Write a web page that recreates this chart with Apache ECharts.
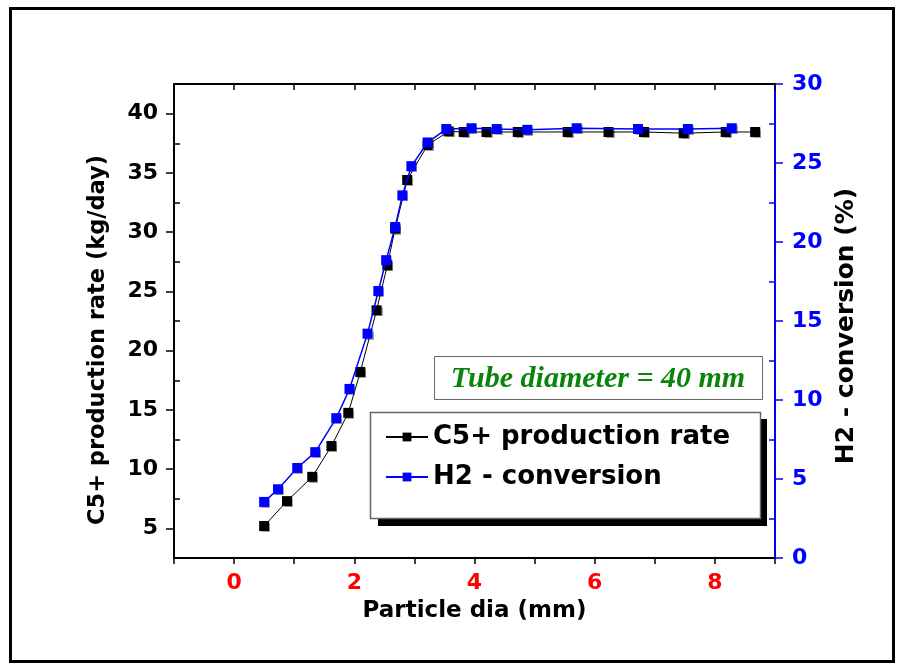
<!DOCTYPE html>
<html>
<head>
<meta charset="utf-8">
<script src="https://cdn.jsdelivr.net/npm/echarts@6/dist/echarts.min.js"></script>
<style>html,body{margin:0;padding:0;background:#fff}#c{width:899px;height:669px}</style>
</head>
<body>
<div id="c"></div>
<script>
// C5+ production rate (kg/day) vs particle diameter (mm)
const c5X = [0.5, 0.88, 1.3, 1.62, 1.9, 2.1, 2.37, 2.55, 2.68, 2.88, 3.22, 3.57, 3.82, 4.2, 4.72, 5.55, 6.23, 6.82, 7.48, 8.18, 8.67];
const c5Y = [5.2, 7.3, 9.35, 11.95, 14.75, 18.2, 23.4, 27.2, 30.3, 34.4, 37.35, 38.5, 38.45, 38.45, 38.45, 38.45, 38.45, 38.45, 38.35, 38.45, 38.45];
// H2 conversion (%) vs particle diameter (mm)
const h2X = [0.5, 0.73, 1.05, 1.35, 1.7, 1.92, 2.22, 2.4, 2.53, 2.68, 2.8, 2.95, 3.22, 3.53, 3.95, 4.37, 4.88, 5.7, 6.72, 7.55, 8.28];
const h2Y = [3.55, 4.35, 5.7, 6.7, 8.85, 10.7, 14.2, 16.9, 18.85, 20.95, 22.95, 24.8, 26.3, 27.15, 27.2, 27.15, 27.1, 27.2, 27.15, 27.15, 27.2];

const xTickLabels = [0, 2, 4, 6, 8];
const leftTickLabels = [5, 10, 15, 20, 25, 30, 35, 40];
const leftMinorTicks = [2.5, 7.5, 12.5, 17.5, 22.5, 27.5, 32.5, 37.5, 42.5];
const rightMinorTicks = [2.5, 7.5, 12.5, 17.5, 22.5, 27.5];

const seriesNames = ['C5+ production rate', 'H2 - conversion'];
const xName = 'Particle dia (mm)';
const leftName = 'C5+ production rate (kg/day)';
const rightName = 'H2 - conversion (%)';
const noteText = 'Tube diameter = 40 mm';

const FONT = '"DejaVu Sans", "Liberation Sans", Arial, sans-serif';
const chart = echarts.init(document.getElementById('c'), null, {renderer: 'canvas'});

const zip = (xs, ys) => xs.map((x, i) => [x, ys[i]]);

chart.setOption({
  animation: false,
  backgroundColor: '#fff',
  grid: {left: 174, right: 124, top: 84, bottom: 111},
  xAxis: [
    {
      type: 'value', position: 'bottom', min: -1, max: 9, interval: 1,
      name: xName, nameLocation: 'middle', nameGap: 42,
      nameTextStyle: {fontFamily: FONT, fontWeight: 'bold', fontSize: 23, color: '#000'},
      axisLine: {show: true, onZero: false, lineStyle: {color: '#000', width: 2}},
      axisTick: {show: true, inside: false, length: 6, lineStyle: {color: '#000', width: 1.5}},
      axisLabel: {customValues: xTickLabels, color: '#ff0000', fontFamily: FONT, fontWeight: 'bold', fontSize: 22, margin: 14},
      splitLine: {show: false}
    },
    {
      type: 'value', position: 'top', min: -1, max: 9, interval: 1,
      axisLine: {show: true, onZero: false, lineStyle: {color: '#000', width: 2}},
      axisTick: {show: true, inside: true, length: 6, lineStyle: {color: '#000', width: 1.5}},
      axisLabel: {show: false},
      splitLine: {show: false}
    }
  ],
  yAxis: [
    {
      type: 'value', position: 'left', min: 2.5, max: 42.5,
      name: leftName, nameLocation: 'middle', nameGap: 64, nameRotate: 90,
      nameTextStyle: {fontFamily: FONT, fontWeight: 'bold', fontSize: 22.5, color: '#000', padding: [0, 38, 0, 0]},
      axisLine: {show: true, onZero: false, lineStyle: {color: '#000', width: 2}},
      axisTick: {show: true, inside: false, length: 8, customValues: leftTickLabels, lineStyle: {color: '#000', width: 1.5}},
      axisLabel: {customValues: leftTickLabels, color: '#000', fontFamily: FONT, fontWeight: 'bold', fontSize: 22, margin: 16},
      splitLine: {show: false}
    },
    {
      type: 'value', position: 'right', min: 0, max: 30, interval: 5,
      name: rightName, nameLocation: 'middle', nameGap: 59, nameRotate: 90,
      nameTextStyle: {fontFamily: FONT, fontWeight: 'bold', fontSize: 25, color: '#000', padding: [0, 10, 0, 0]},
      axisLine: {show: true, onZero: false, lineStyle: {color: '#0000ff', width: 2}},
      axisTick: {show: true, inside: false, length: 8, lineStyle: {color: '#0000ff', width: 1.5}},
      axisLabel: {color: '#0000ff', fontFamily: FONT, fontWeight: 'bold', fontSize: 22, margin: 17},
      splitLine: {show: false}
    },
    {
      type: 'value', position: 'left', min: 2.5, max: 42.5,
      axisLine: {show: false, onZero: false},
      axisTick: {show: true, inside: true, length: 6, customValues: leftMinorTicks, lineStyle: {color: '#000', width: 1.5}},
      axisLabel: {show: false},
      splitLine: {show: false}
    },
    {
      type: 'value', position: 'right', min: 0, max: 30,
      axisLine: {show: false, onZero: false},
      axisTick: {show: true, inside: true, length: 6, customValues: rightMinorTicks, lineStyle: {color: '#0000ff', width: 1.5}},
      axisLabel: {show: false},
      splitLine: {show: false}
    }
  ],
  legend: {
    orient: 'vertical', left: 380, top: 416,
    itemWidth: 42, itemHeight: 11, itemGap: 8,
    data: seriesNames,
    textStyle: {fontFamily: FONT, fontWeight: 'bold', fontSize: 26, color: '#000', lineHeight: 32}
  },
  series: [
    {
      name: seriesNames[0], type: 'line', xAxisIndex: 0, yAxisIndex: 0,
      data: zip(c5X, c5Y),
      symbol: 'rect', symbolSize: 10,
      lineStyle: {color: '#000', width: 1},
      itemStyle: {color: '#000', shadowColor: 'rgba(0,0,0,0.35)', shadowOffsetX: 1, shadowOffsetY: 1, shadowBlur: 1},
      z: 3
    },
    {
      name: seriesNames[1], type: 'line', xAxisIndex: 0, yAxisIndex: 1,
      data: zip(h2X, h2Y),
      symbol: 'rect', symbolSize: 10,
      lineStyle: {color: '#0000ff', width: 1.5},
      itemStyle: {color: '#0000ff', shadowColor: 'rgba(0,0,0,0.35)', shadowOffsetX: 1, shadowOffsetY: 1, shadowBlur: 1},
      z: 4
    }
  ],
  graphic: [
    {type: 'rect', shape: {x: 10.5, y: 8.5, width: 883, height: 653}, style: {fill: null, stroke: '#000', lineWidth: 3}, z: 1},
    {type: 'rect', shape: {x: 378, y: 419, width: 389, height: 107}, style: {fill: '#000'}, z: 1},
    {type: 'rect', shape: {x: 370.5, y: 412.5, width: 390, height: 106}, style: {fill: '#fff', stroke: '#666', lineWidth: 1.5}, z: 2},
    {type: 'rect', shape: {x: 434.5, y: 356.5, width: 328, height: 43}, style: {fill: '#fff', stroke: '#666', lineWidth: 1}, z: 2},
    {type: 'text', x: 598, y: 379, z: 3,
      style: {text: noteText, fill: '#0a840a', font: 'italic bold 30px "Liberation Serif", "Times New Roman", serif', align: 'center', verticalAlign: 'middle'}}
  ]
});
</script>
</body>
</html>
